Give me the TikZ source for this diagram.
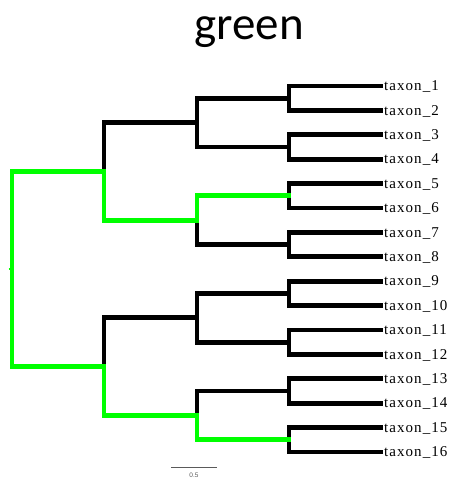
\documentclass[tikz,border=0pt]{standalone}
\usepackage{fontspec}
\setmainfont{Liberation Serif}
\newfontfamily\titlefont{Carlito}
\newfontfamily\scalefont{Liberation Sans}
\newfontfamily\tipfont[LetterSpace=7]{Liberation Serif}
\definecolor{branchgreen}{RGB}{0,255,0}
\definecolor{scalegray}{RGB}{90,90,90}
\begin{document}
\begin{tikzpicture}[x=1pt,y=-1pt,
  br/.style={line width=4.7pt,line cap=rect,black},
  gbr/.style={line width=4.7pt,line cap=rect,branchgreen},
  tip/.style={anchor=west,inner xsep=3pt,inner ysep=0pt,text height=9.5pt,text depth=0pt,font=\tipfont\fontsize{15}{17}\selectfont}]
\useasboundingbox (0,0) rectangle (451,480);
\node[font=\titlefont\fontsize{47}{50}\selectfont,anchor=base] (title) at (249,39) {green};
% tips
\foreach \i/\y in {1/86,2/110.4,3/134.8,4/159.2,5/183.6,6/208,7/232.4,8/256.8,9/281.2,10/305.6,11/330,12/354.4,13/378.8,14/403.2,15/427.6,16/452}
  \node[tip] (t\i) at (381,\y) {taxon\_\i};
% internal nodes
\coordinate (n12) at (289,98.2);
\coordinate (n34) at (289,147);
\coordinate (n56) at (289,195.8);
\coordinate (n78) at (289,244.6);
\coordinate (n910) at (289,293.4);
\coordinate (n1112) at (289,342.2);
\coordinate (n1314) at (289,391);
\coordinate (n1516) at (289,439.8);
\coordinate (a) at (197,122.6);
\coordinate (b) at (197,220.2);
\coordinate (c) at (197,317.8);
\coordinate (d) at (197,415.4);
\coordinate (e) at (104,171.4);
\coordinate (f) at (104,366.6);
\coordinate (r) at (12,269);
\coordinate (stub) at (8.5,269);
% black branches
\foreach \p/\ca/\cb in {n12/t1/t2,n34/t3/t4,n56/t5/t6,n78/t7/t8,n910/t9/t10,n1112/t11/t12,n1314/t13/t14,n1516/t15/t16}{
  \draw[br] (\p) |- (\ca.west);
  \draw[br] (\p) |- (\cb.west);
}
\draw[br] (a) |- (n12);
\draw[br] (a) |- (n34);
\draw[br] (b) |- (n78);
\draw[br] (c) |- (n910);
\draw[br] (c) |- (n1112);
\draw[br] (d) |- (n1314);
\draw[br] (e) |- (a);
\draw[br] (f) |- (c);
% green branches
\draw[gbr] (r) |- (e);
\draw[gbr] (r) |- (f);
\draw[gbr,line width=2.5pt,line cap=butt] (stub) -- (r);
\draw[gbr] (e) |- (b);
\draw[gbr] (b) |- (n56);
\draw[gbr] (f) |- (d);
\draw[gbr] (d) |- (n1516);
% scale bar
\coordinate (sb1) at (171,467);
\coordinate (sb2) at (217,467);
\draw[scalegray,line width=0.8pt] (sb1) -- (sb2);
\node[font=\scalefont\fontsize{6.5}{7}\selectfont,text=scalegray] (sblabel) at (194,475.5) {0.5};
\end{tikzpicture}
\end{document}
